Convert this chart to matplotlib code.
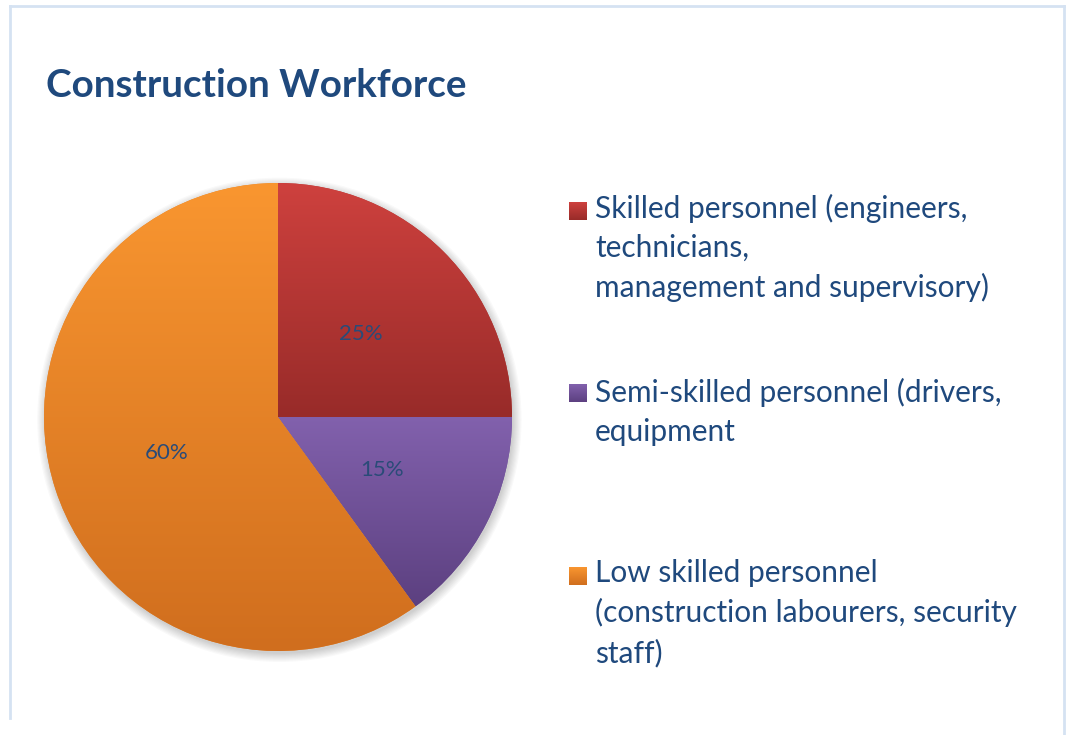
import numpy as np
import matplotlib.pyplot as plt
from matplotlib.colors import LinearSegmentedColormap
from matplotlib.patches import Circle
from matplotlib.lines import Line2D

title = "Construction Workforce"
labels = [
    "Skilled personnel (engineers,\ntechnicians,\nmanagement and supervisory)",
    "Semi-skilled personnel (drivers,\nequipment",
    "Low skilled personnel\n(construction labourers, security\nstaff)",
]
shares = [25, 15, 60]
top_colors = ["#CE413E", "#8261AD", "#F99630"]
bottom_colors = ["#982B29", "#5C4080", "#D06E1E"]
mid_colors = ["#B53835", "#6E4F97", "#E58227"]

W, H = 1066, 735
fig = plt.figure(figsize=(W / 100, H / 100), dpi=100)
fig.patch.set_facecolor("white")

def fx(x):
    return x / W

def fy(y):
    return 1 - y / H

# frame around the chart
border = "#D5E2F2"
fig.add_artist(Line2D([fx(10), fx(10)], [fy(718), fy(6)], color=border, lw=2))
fig.add_artist(Line2D([fx(10), fx(1064)], [fy(6), fy(6)], color=border, lw=2))
fig.add_artist(Line2D([fx(1064), fx(1064)], [fy(6), fy(735)], color=border, lw=2))

fig.text(fx(46), fy(97), title, fontsize=27.8, fontweight="bold", family="Lato",
         color="#1F497D", va="baseline", ha="left")

# pie: centre (278, 417) px, radius 234 px
cx, cy, r = 278, 417, 234
ax = fig.add_axes([fx(cx - r), fy(cy + r), 2 * r / W, 2 * r / H])
wedges, texts, autotexts = ax.pie(
    shares, colors=mid_colors, startangle=90, counterclock=False,
    autopct="%d%%", pctdistance=0.5, radius=1,
    textprops=dict(color="#2A4B78", fontsize=16, family="Lato"))
ax.set_aspect("equal")
ax.axis("off")

# soft shadow to the lower right
for k in range(8):
    ax.add_patch(Circle((0.006, -0.012), 1.0 + k * 0.005, color="black",
                        alpha=0.025, zorder=0, clip_on=False, lw=0))

# vertical gradient inside every slice
grad = np.linspace(0, 1, 256).reshape(-1, 1)
for w, c0, c1 in zip(wedges, top_colors, bottom_colors):
    ext = w.get_path().get_extents()
    cmap = LinearSegmentedColormap.from_list("g", [c0, c1])
    im = ax.imshow(grad, cmap=cmap, aspect="auto", origin="upper",
                   extent=(ext.x0, ext.x1, ext.y0, ext.y1), zorder=1.5)
    im.set_clip_path(w)
    w.set_edgecolor("none")
for t in autotexts:
    t.set_zorder(3)
ax.set_xlim(-1, 1)
ax.set_ylim(-1, 1)

# legend, entries evenly spaced; yb = baseline of first line (px)
legend_base = [220, 402, 585]
line_px = 38.5
for lab, yb, c0, c1 in zip(labels, legend_base, top_colors, bottom_colors):
    kax = fig.add_axes([fx(569), fy(yb), 18 / W, 18 / H])
    kax.imshow(grad, cmap=LinearSegmentedColormap.from_list("k", [c0, c1]),
               aspect="auto", origin="upper")
    kax.axis("off")
    last = yb + (lab.count("\n")) * line_px
    fig.text(fx(595), fy(last), lab, fontsize=21.5, family="Lato", color="#1F497D",
             va="baseline", ha="left", linespacing=1.465)

fig.savefig("out.png", dpi=100)
